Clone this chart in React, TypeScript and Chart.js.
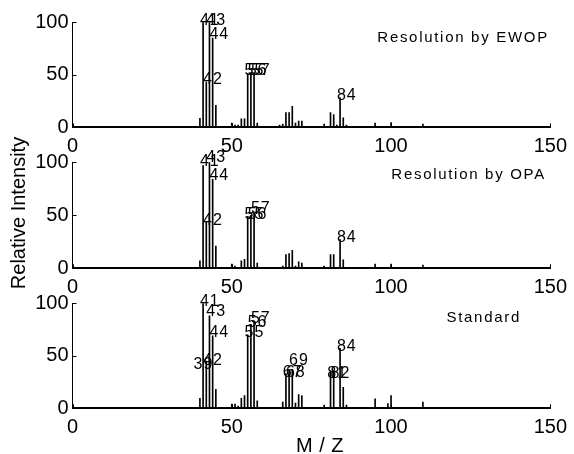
import React, { useEffect, useRef } from "react";
import { Chart, registerables } from "chart.js";

Chart.register(...registerables);

// ---------- data ----------
const MZ = [40, 41, 42, 43, 44, 45, 46, 50, 51, 52, 53, 54, 55, 56, 57, 58, 59, 65, 66, 67, 68, 69, 70, 71, 72, 77, 79, 80, 81, 82, 83, 84, 85, 86, 91, 93, 95, 99, 100, 110];
const EWOP = [8.5, 100, 43, 100, 85, 21, 1, 4, 2, 2, 8, 8, 51, 52, 52, 4, 1, 2, 3, 14, 14, 20, 4, 6, 6, 1, 3, 1, 14, 12, 2, 28, 9, 2, 1, 1, 4, 0, 4.5, 3];
const OPA = [7, 97, 44, 100, 84, 21, 1, 4, 2, 1, 7, 8.5, 49, 50, 52, 5, 1, 1, 2, 13, 14, 17, 2, 6, 5, 1, 2, 1, 13, 13, 1, 27, 8, 1, 1, 1, 4, 0, 4, 3];
const STANDARD = [9.5, 100, 45, 88, 69, 18, 1, 4, 4, 2, 9.5, 12, 70, 80, 82, 7, 1, 1, 6, 33, 35, 37, 5, 13, 12, 1, 3, 1, 36, 35, 1, 57, 20, 3, 0, 0, 9, 4.5, 12, 6];

const EWOP_LABEL_MZ = [41, 42, 43, 44, 55, 56, 57, 84];
const EWOP_LABEL_Y = [101.5, 45, 101.5, 88, 54, 54, 54, 30];
const OPA_LABEL_MZ = [41, 42, 43, 44, 55, 56, 57, 84];
const OPA_LABEL_Y = [100.5, 45, 104.5, 87, 51, 51, 56, 29];
const STD_LABEL_MZ = [39, 41, 42, 43, 44, 55, 56, 57, 67, 68, 69, 81, 82, 84];
const STD_LABEL_Y = [42, 101.5, 45, 92, 72, 72.5, 82, 85, 34, 34, 45, 33, 33, 59];

const PANEL_NAMES = ["Resolution by EWOP", "Resolution by OPA", "Standard"];
const X_TICKS = [0, 50, 100, 150];
const Y_TICKS = [0, 50, 100];
const X_TITLE = "M / Z";
const Y_TITLE = "Relative Intensity";

// ---------- layout / style ----------
const W = 574;
const H = 454;
const FONT = "'Liberation Sans', Arial, Helvetica, sans-serif";
const PLOT_LEFT = 72.5;
const PLOT_RIGHT = 555;
const PANEL_BOX = [
  { top: 22.3, bottom: 127.3 },
  { top: 162.3, bottom: 268.3 },
  { top: 303.3, bottom: 408.3 },
];
const NAME_POS = [
  { x: 95.7, y: 85 },
  { x: 100.1, y: 88.5 },
  { x: 117.4, y: 86 },
];

const PANELS = [
  { values: EWOP, labelMz: EWOP_LABEL_MZ, labelY: EWOP_LABEL_Y },
  { values: OPA, labelMz: OPA_LABEL_MZ, labelY: OPA_LABEL_Y },
  { values: STANDARD, labelMz: STD_LABEL_MZ, labelY: STD_LABEL_Y },
];

function makeConfig(i: number): any {
  const p = PANELS[i];
  const box = PANEL_BOX[i];
  const data = MZ.map((m, k) => ({ x: m, y: p.values[k] }));

  const decor = {
    id: "decor" + i,
    afterDatasetsDraw(chart: any) {
      const { ctx } = chart;
      const xs = chart.scales.x;
      const ys = chart.scales.y;
      ctx.save();
      ctx.fillStyle = "#000";
      // peak labels
      ctx.font = `16px ${FONT}`;
      (ctx as any).letterSpacing = "1px";
      ctx.textAlign = "left";
      ctx.textBaseline = "middle";
      p.labelMz.forEach((m, k) => {
        ctx.fillText(String(m), xs.getPixelForValue(m - 1), ys.getPixelForValue(p.labelY[k]));
      });
      // panel name
      ctx.font = `15px ${FONT}`;
      (ctx as any).letterSpacing = "1.7px";
      const np = NAME_POS[i];
      ctx.fillText(PANEL_NAMES[i], xs.getPixelForValue(np.x), ys.getPixelForValue(np.y));
      ctx.restore();
    },
    afterDraw(chart: any) {
      const { ctx, chartArea } = chart;
      const xs = chart.scales.x;
      const ys = chart.scales.y;
      ctx.save();
      ctx.strokeStyle = "#000";
      ctx.lineWidth = 1;
      ctx.beginPath();
      Y_TICKS.forEach((v) => {
        const y = Math.round(ys.getPixelForValue(v)) + 0.5;
        ctx.moveTo(chartArea.left, y);
        ctx.lineTo(chartArea.left + 4, y);
      });
      X_TICKS.forEach((v) => {
        const x = Math.round(xs.getPixelForValue(v)) + 0.5;
        ctx.moveTo(x, chartArea.bottom);
        ctx.lineTo(x, chartArea.bottom - 4);
      });
      ctx.stroke();
      ctx.fillStyle = "#000";
      ctx.textAlign = "center";
      ctx.textBaseline = "middle";
      if (i === 1) {
        ctx.save();
        ctx.font = `20px ${FONT}`;
        ctx.translate(19, 213);
        ctx.rotate(-Math.PI / 2);
        ctx.fillText(Y_TITLE, 0, 0);
        ctx.restore();
      }
      if (i === 2) {
        ctx.font = `20px ${FONT}`;
        (ctx as any).letterSpacing = "0.5px";
        ctx.fillText(X_TITLE, 320, 446.5);
      }
      ctx.restore();
    },
  };

  return {
    type: "bar",
    data: {
      datasets: [
        {
          data,
          backgroundColor: "#000",
          borderWidth: 0,
          barThickness: 1,
          grouped: false,
        },
      ],
    },
    options: {
      responsive: false,
      animation: false,
      events: [],
      layout: { padding: { top: box.top, right: W - PLOT_RIGHT, left: 0, bottom: 0 } },
      plugins: { legend: { display: false }, tooltip: { enabled: false }, title: { display: false } },
      scales: {
        x: {
          type: "linear",
          min: 0,
          max: 150,
          offset: false,
          afterFit(scale: any) {
            scale.height = H - box.bottom;
          },
          afterBuildTicks(scale: any) {
            scale.ticks = X_TICKS.map((v) => ({ value: v }));
          },
          grid: { display: false, drawTicks: false, tickLength: 0 },
          border: { display: true, color: "#000", width: 2 },
          ticks: {
            color: "#000",
            font: { family: FONT, size: 20 },
            padding: 7,
            maxRotation: 0,
            autoSkip: false,
          },
        },
        y: {
          type: "linear",
          min: 0,
          max: 100,
          afterFit(scale: any) {
            scale.width = PLOT_LEFT;
          },
          afterBuildTicks(scale: any) {
            scale.ticks = Y_TICKS.map((v) => ({ value: v }));
          },
          grid: { display: false, drawTicks: false, tickLength: 0 },
          border: { display: true, color: "#000", width: 1 },
          ticks: {
            color: "#000",
            font: { family: FONT, size: 20 },
            padding: 4,
          },
        },
      },
    },
    plugins: [decor],
  };
}

export default function App() {
  const r0 = useRef<HTMLCanvasElement>(null);
  const r1 = useRef<HTMLCanvasElement>(null);
  const r2 = useRef<HTMLCanvasElement>(null);

  useEffect(() => {
    const refs = [r0, r1, r2];
    const charts = refs.map((r, i) => new Chart(r.current as HTMLCanvasElement, makeConfig(i)));
    return () => charts.forEach((c) => c.destroy());
  }, []);

  const cs: React.CSSProperties = { position: "absolute", left: 0, top: 0, width: W, height: H };
  return (
    <div style={{ position: "fixed", left: 0, top: 0, width: W, height: H, overflow: "hidden", background: "#fff" }}>
      <canvas ref={r0} width={W} height={H} style={cs} />
      <canvas ref={r1} width={W} height={H} style={cs} />
      <canvas ref={r2} width={W} height={H} style={cs} />
    </div>
  );
}
